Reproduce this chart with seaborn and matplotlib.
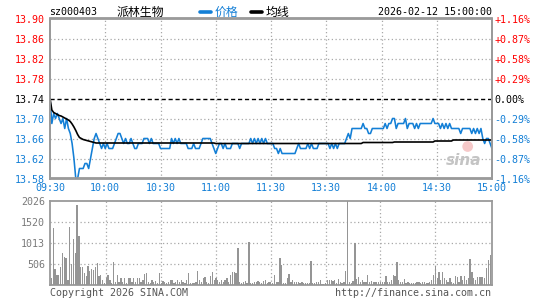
import numpy as np
import pandas as pd
import matplotlib
matplotlib.use("Agg")
import matplotlib.pyplot as plt
from matplotlib.lines import Line2D
import seaborn as sns

# ---------------- data ----------------
code = "sz000403"
name = "派林生物"
stamp = "2026-02-12 15:00:00"
legend_price = "价格"
legend_avg = "均线"
copyright_text = "Copyright 2026 SINA.COM"
url_text = "http://finance.sina.com.cn"

prev_close = 13.74
price_ticks = [13.90, 13.86, 13.82, 13.78, 13.74, 13.70, 13.66, 13.62, 13.58]
pct_labels = ["+1.16%", "+0.87%", "+0.58%", "+0.29%", "0.00%",
              "-0.29%", "-0.58%", "-0.87%", "-1.16%"]
time_labels = ["09:30", "10:00", "10:30", "11:00", "11:30",
               "13:30", "14:00", "14:30", "15:00"]
time_slots = [0, 30, 60, 90, 120, 150, 180, 210, 240]
vol_ticks = [506, 1013, 1520, 2026]

price = [
    13.74, 13.69, 13.71, 13.70, 13.71, 13.70, 13.69, 13.70, 13.68, 13.70,
    13.68, 13.67, 13.65, 13.62, 13.58, 13.58, 13.60, 13.60, 13.60, 13.61,
    13.61, 13.60, 13.62, 13.64, 13.66, 13.67, 13.66, 13.65, 13.64, 13.65,
    13.64, 13.65, 13.64, 13.64, 13.64, 13.65, 13.66, 13.67, 13.67, 13.66,
    13.65, 13.66, 13.65, 13.65, 13.66, 13.65, 13.64, 13.64, 13.65, 13.65,
    13.65, 13.66, 13.66, 13.66, 13.65, 13.66, 13.65, 13.65, 13.65, 13.65,
    13.64, 13.64, 13.64, 13.64, 13.64, 13.64, 13.66, 13.65, 13.66, 13.65,
    13.66, 13.65, 13.65, 13.65, 13.65, 13.64, 13.64, 13.64, 13.65, 13.64,
    13.64, 13.64, 13.65, 13.66, 13.66, 13.66, 13.66, 13.66, 13.65, 13.64,
    13.63, 13.64, 13.65, 13.65, 13.64, 13.65, 13.64, 13.64, 13.64, 13.65,
    13.65, 13.65, 13.65, 13.64, 13.65, 13.65, 13.65, 13.65, 13.65, 13.66,
    13.65, 13.66, 13.65, 13.66, 13.65, 13.66, 13.65, 13.66, 13.65, 13.65,
    13.65, 13.65, 13.64, 13.64, 13.63, 13.64, 13.63, 13.63, 13.63, 13.63,
    13.63, 13.63, 13.63, 13.63, 13.64, 13.65, 13.64, 13.64, 13.64, 13.64,
    13.65, 13.64, 13.65, 13.64, 13.64, 13.64, 13.65, 13.65, 13.65, 13.65,
    13.65, 13.65, 13.64, 13.65, 13.64, 13.65, 13.64, 13.65, 13.65, 13.65,
    13.65, 13.66, 13.67, 13.66, 13.68, 13.68, 13.68, 13.68, 13.68, 13.68,
    13.69, 13.68, 13.68, 13.67, 13.67, 13.68, 13.68, 13.68, 13.68, 13.68,
    13.68, 13.68, 13.69, 13.68, 13.69, 13.69, 13.70, 13.70, 13.68, 13.69,
    13.69, 13.69, 13.69, 13.70, 13.68, 13.69, 13.69, 13.69, 13.68, 13.69,
    13.68, 13.69, 13.69, 13.69, 13.69, 13.69, 13.69, 13.69, 13.70, 13.69,
    13.69, 13.69, 13.68, 13.69, 13.68, 13.69, 13.68, 13.69, 13.68, 13.68,
    13.68, 13.68, 13.68, 13.67, 13.68, 13.68, 13.68, 13.68, 13.68, 13.67,
    13.68, 13.67, 13.68, 13.67, 13.68, 13.66, 13.65, 13.66, 13.66, 13.65,
    13.64,
]

avg_price = [
    13.740, 13.717, 13.712, 13.710, 13.708, 13.706, 13.705, 13.703, 13.701, 13.699,
    13.697, 13.694, 13.689, 13.683, 13.676, 13.668, 13.662, 13.660, 13.658, 13.657,
    13.656, 13.655, 13.654, 13.653, 13.652, 13.651, 13.651, 13.651, 13.651, 13.651,
    13.651, 13.651, 13.651, 13.651, 13.651, 13.651, 13.651, 13.651, 13.651, 13.651,
    13.651, 13.651, 13.651, 13.651, 13.651, 13.651, 13.651, 13.651, 13.651, 13.651,
    13.651, 13.651, 13.651, 13.651, 13.651, 13.651, 13.651, 13.651, 13.651, 13.651,
    13.651, 13.651, 13.651, 13.651, 13.651, 13.651, 13.651, 13.651, 13.651, 13.651,
    13.651, 13.651, 13.651, 13.651, 13.651, 13.651, 13.651, 13.651, 13.651, 13.651,
    13.651, 13.651, 13.651, 13.651, 13.651, 13.651, 13.651, 13.651, 13.651, 13.651,
    13.650, 13.650, 13.650, 13.650, 13.650, 13.650, 13.650, 13.650, 13.650, 13.650,
    13.650, 13.650, 13.650, 13.650, 13.650, 13.650, 13.650, 13.650, 13.650, 13.650,
    13.650, 13.650, 13.650, 13.650, 13.650, 13.650, 13.650, 13.650, 13.650, 13.650,
    13.650, 13.650, 13.650, 13.650, 13.650, 13.650, 13.650, 13.650, 13.650, 13.650,
    13.650, 13.650, 13.650, 13.650, 13.650, 13.650, 13.650, 13.650, 13.650, 13.650,
    13.650, 13.650, 13.650, 13.650, 13.650, 13.650, 13.650, 13.650, 13.650, 13.650,
    13.650, 13.650, 13.650, 13.650, 13.650, 13.650, 13.650, 13.650, 13.650, 13.650,
    13.650, 13.650, 13.650, 13.650, 13.650, 13.650, 13.650, 13.650, 13.650, 13.650,
    13.652, 13.652, 13.652, 13.652, 13.652, 13.652, 13.652, 13.652, 13.652, 13.652,
    13.652, 13.652, 13.652, 13.652, 13.652, 13.652, 13.652, 13.653, 13.653, 13.653,
    13.653, 13.653, 13.653, 13.653, 13.653, 13.653, 13.653, 13.653, 13.653, 13.653,
    13.653, 13.653, 13.653, 13.653, 13.653, 13.653, 13.653, 13.653, 13.653, 13.655,
    13.655, 13.655, 13.655, 13.655, 13.655, 13.655, 13.655, 13.655, 13.655, 13.657,
    13.657, 13.657, 13.657, 13.657, 13.657, 13.657, 13.657, 13.657, 13.657, 13.657,
    13.657, 13.657, 13.657, 13.657, 13.657, 13.657, 13.657, 13.657, 13.657, 13.657,
    13.657,
]

volume = [
    180, 1380, 385, 240, 240, 440, 760, 685, 660, 125,
    1405, 500, 1110, 765, 1930, 1180, 440, 440, 300, 215,
    465, 330, 385, 360, 440, 525, 215, 240, 120, 60,
    160, 240, 120, 40, 545, 80, 240, 80, 160, 80,
    160, 40, 160, 160, 80, 160, 80, 160, 160, 80,
    120, 260, 280, 80, 40, 120, 80, 100, 60, 280,
    40, 100, 80, 40, 80, 120, 120, 40, 80, 120,
    80, 120, 80, 40, 120, 290, 40, 40, 40, 80,
    345, 120, 80, 160, 200, 80, 40, 225, 305, 120,
    160, 120, 80, 120, 80, 120, 160, 80, 240, 305,
    305, 280, 900, 80, 40, 80, 100, 60, 1030, 40,
    40, 80, 80, 100, 80, 40, 100, 120, 60, 80,
    80, 40, 240, 80, 80, 660, 480, 40, 60, 160,
    265, 80, 130, 80, 80, 80, 60, 80, 40, 60,
    60, 50, 575, 40, 60, 80, 80, 120, 30, 30,
    60, 120, 120, 120, 100, 120, 60, 140, 80, 60,
    80, 330, 2026, 80, 60, 100, 1005, 140, 200, 80,
    120, 80, 80, 240, 80, 100, 80, 80, 80, 80,
    80, 80, 80, 225, 80, 80, 120, 240, 225, 560,
    120, 80, 80, 140, 40, 80, 40, 40, 60, 50,
    80, 80, 60, 80, 80, 60, 60, 80, 120, 240,
    460, 160, 305, 120, 305, 160, 120, 80, 160, 80,
    60, 225, 200, 80, 225, 120, 225, 120, 175, 625,
    305, 160, 120, 200, 200, 200, 200, 180, 420, 600,
    720,
]

df = pd.DataFrame({
    "minute": np.arange(len(price)),
    "price": price,
    "avg": avg_price,
    "volume": volume,
})

# ---------------- style ----------------
W, H = 545, 300
BLUE = "#137fd6"
RED = "#ff0000"
GRAY_SPINE = "#9a9a9a"
GRID = "#a8a8a8"
VOL_GRAY = "#959595"
TXT_GRAY = "#7a7a7a"

sns.set_theme(style="white")
plt.rcParams["font.family"] = ["DejaVu Sans Mono", "Noto Sans CJK SC"]

fig = plt.figure(figsize=(W / 100, H / 100), dpi=100)
fig.patch.set_facecolor("white")


def rect(x0, y0, x1, y1):
    return [x0 / W, 1 - y1 / H, (x1 - x0) / W, (y1 - y0) / H]


def fx(x):
    return x / W


def fy(y):
    return 1 - y / H


ax = fig.add_axes(rect(50, 18.5, 492, 178.5))
axv = fig.add_axes(rect(50, 201, 492, 285))

# ---------------- price panel ----------------
ax.set_xlim(0, 240)
ax.set_ylim(price_ticks[-1], price_ticks[0])
dot = (0, (1, 2))
for v in price_ticks[1:-1]:
    if abs(v - prev_close) < 1e-9:
        ax.axhline(v, color="black", lw=1.0, ls=(0, (3, 2)), zorder=1)
    else:
        ax.axhline(v, color=GRID, lw=0.9, ls=dot, zorder=1)
for t in time_slots[1:-1]:
    ax.axvline(t, color=GRID, lw=0.9, ls=dot, zorder=1)

sns.lineplot(data=df, x="minute", y="price", ax=ax, color=BLUE, lw=1.15,
             estimator=None, zorder=3)
sns.lineplot(data=df, x="minute", y="avg", ax=ax, color="black", lw=1.2,
             estimator=None, zorder=4)

ax.set_xlabel("")
ax.set_ylabel("")
ax.set_yticks(price_ticks)
ax.set_yticklabels([f"{v:.2f}" for v in price_ticks])
for lab, v in zip(ax.get_yticklabels(), price_ticks):
    if v > prev_close + 1e-9:
        lab.set_color(RED)
    elif v < prev_close - 1e-9:
        lab.set_color(BLUE)
    else:
        lab.set_color("black")
ax.set_xticks(time_slots)
ax.set_xticklabels(time_labels, color=BLUE)
ax.tick_params(axis="both", length=0, labelsize=7.2)
ax.tick_params(axis="y", pad=3.5)
ax.tick_params(axis="x", pad=3)

ax2 = ax.twinx()
ax2.set_ylim(ax.get_ylim())
ax2.set_yticks(price_ticks)
ax2.set_yticklabels(pct_labels)
for lab, v in zip(ax2.get_yticklabels(), price_ticks):
    if v > prev_close + 1e-9:
        lab.set_color(RED)
    elif v < prev_close - 1e-9:
        lab.set_color(BLUE)
    else:
        lab.set_color("black")
ax2.tick_params(axis="y", length=0, labelsize=7.2, pad=1.5)
ax2.grid(False)

for a in (ax, ax2):
    for s in a.spines.values():
        s.set_color(GRAY_SPINE)
        s.set_linewidth(1.3)
ax.grid(False)

# watermark
ax.text(0.935, 0.115, "sina", transform=ax.transAxes, ha="center", va="center",
        fontsize=11, fontstyle="italic", fontweight="bold", color="#c4c4c4",
        family="DejaVu Sans", zorder=2)
ax.scatter([0.945], [0.2], transform=ax.transAxes, s=60, color="#f6c9c9",
           edgecolor="none", zorder=2)

# ---------------- volume panel ----------------
sns.barplot(data=df, x="minute", y="volume", ax=axv, native_scale=True,
            color=VOL_GRAY, width=0.7, linewidth=0, saturation=1, errorbar=None,
            zorder=3)
axv.set_xlim(-0.8, 241)
axv.set_ylim(0, vol_ticks[-1])
for v in vol_ticks[:-1]:
    axv.axhline(v, color=GRID, lw=0.9, ls=dot, zorder=1)
for t in time_slots[1:-1]:
    axv.axvline(t, color=GRID, lw=0.9, ls=dot, zorder=1)
axv.set_xlabel("")
axv.set_ylabel("")
axv.set_xticks([])
axv.set_yticks(vol_ticks)
axv.set_yticklabels([str(v) for v in vol_ticks], color=TXT_GRAY)
axv.tick_params(axis="y", length=0, labelsize=7.2, pad=3.5)
axv.grid(False)
for s in axv.spines.values():
    s.set_color(GRAY_SPINE)
    s.set_linewidth(1.3)

# ---------------- header / footer ----------------
fig.text(fx(49), fy(12), code, ha="left", va="center", fontsize=7.2, color="black")
fig.text(fx(117), fy(12), name, ha="left", va="center", fontsize=8.6,
         color="black", family=["Noto Sans CJK SC", "DejaVu Sans"])
fig.add_artist(Line2D([fx(200), fx(211)], [fy(12), fy(12)], color=BLUE, lw=2.6))
fig.text(fx(215), fy(12), legend_price, ha="left", va="center", fontsize=8.6,
         color=BLUE, family=["Noto Sans CJK SC", "DejaVu Sans"])
fig.add_artist(Line2D([fx(251), fx(262)], [fy(12), fy(12)], color="black", lw=2.6))
fig.text(fx(266), fy(12), legend_avg, ha="left", va="center", fontsize=8.6,
         color="black", family=["Noto Sans CJK SC", "DejaVu Sans"])
fig.text(fx(492), fy(12), stamp, ha="right", va="center", fontsize=7.2, color="black")

fig.text(fx(50), fy(293), copyright_text, ha="left", va="center", fontsize=7.2,
         color="#555555")
fig.text(fx(491), fy(293), url_text, ha="right", va="center", fontsize=7.2,
         color="#555555")

fig.savefig("out.png", dpi=100, facecolor="white")
